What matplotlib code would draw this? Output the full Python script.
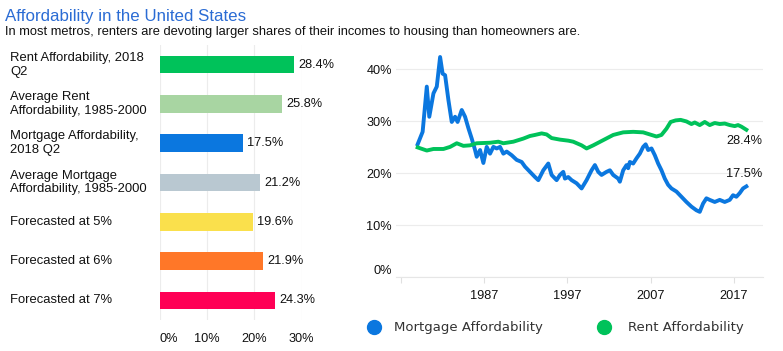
import matplotlib.pyplot as plt
from matplotlib.lines import Line2D
import matplotlib.transforms as mtransforms

plt.rcParams['font.family'] = ['Liberation Sans', 'DejaVu Sans']

# bar chart data
bar_labels = ['Rent Affordability, 2018\nQ2', 'Average Rent\nAffordability, 1985-2000',
              'Mortgage Affordability,\n2018 Q2', 'Average Mortgage\nAffordability, 1985-2000',
              'Forecasted at 5%', 'Forecasted at 6%', 'Forecasted at 7%']
bar_values = [28.4, 25.8, 17.5, 21.2, 19.6, 21.9, 24.3]
bar_colors = ['#00c25a', '#a8d5a2', '#0b77df', '#b9c8d1', '#fae04c', '#ff7728', '#ff0055']
bar_ticks = [0, 10, 20, 30]

# line chart data
mort_years = [1979.0, 1979.6, 1980.1, 1980.4, 1980.9, 1981.3, 1981.7, 1982.0, 1982.3, 1982.7,
              1983.1, 1983.5, 1983.8, 1984.3, 1984.7, 1985.1, 1985.5, 1985.9, 1986.1, 1986.5,
              1986.9, 1987.3, 1987.7, 1988.1, 1988.5, 1988.9, 1989.3, 1989.7, 1990.3, 1990.9,
              1991.5, 1991.9, 1992.5, 1993.1, 1993.5, 1994.1, 1994.7, 1995.1, 1995.7, 1996.1,
              1996.5, 1996.7, 1997.1, 1997.5, 1998.1, 1998.7, 1999.3, 1999.9, 2000.3, 2000.7,
              2001.1, 2001.7, 2002.1, 2002.5, 2003.1, 2003.3, 2003.7, 2004.1, 2004.3, 2004.5,
              2004.9, 2005.3, 2005.7, 2006.1, 2006.4, 2006.7, 2007.1, 2007.5, 2007.9, 2008.3,
              2008.7, 2009.1, 2009.5, 2010.1, 2010.7, 2011.3, 2011.9, 2012.5, 2012.9, 2013.3,
              2013.7, 2014.1, 2014.7, 2015.3, 2015.9, 2016.5, 2016.9, 2017.3, 2017.7, 2018.1,
              2018.5]
mort_values = [25.6, 28.0, 36.7, 30.9, 35.4, 36.7, 42.4, 39.2, 38.9, 34.1,
               29.9, 30.9, 29.9, 32.2, 30.9, 28.7, 26.7, 24.5, 23.2, 24.5,
               22.0, 25.1, 23.8, 25.1, 24.8, 25.1, 23.8, 24.2, 23.5, 22.6,
               22.2, 21.3, 20.3, 19.3, 18.7, 20.6, 21.9, 19.7, 18.7, 19.7,
               20.3, 19.0, 19.3, 18.7, 18.1, 17.1, 18.7, 20.6, 21.6, 20.3,
               19.7, 20.3, 20.6, 19.7, 19.0, 18.4, 20.6, 21.6, 21.0, 22.2,
               21.9, 22.9, 23.8, 25.1, 25.6, 24.5, 24.8, 23.5, 21.9, 20.6,
               19.0, 17.8, 17.1, 16.5, 15.5, 14.5, 13.6, 12.9, 12.6, 14.2,
               15.2, 14.9, 14.5, 14.9, 14.5, 14.9, 15.8, 15.5, 16.2, 17.1,
               17.5]
rent_years = [1979.0, 1980.1, 1980.9, 1982.1, 1982.9, 1983.7, 1984.5, 1985.3, 1986.1, 1987.7,
              1988.7, 1989.3, 1990.5, 1991.7, 1992.5, 1993.1, 1993.9, 1994.5, 1995.1, 1996.1,
              1997.1, 1997.7, 1998.7, 1999.3, 2000.1, 2001.3, 2002.5, 2003.7, 2004.9, 2006.1,
              2007.1, 2007.7, 2008.3, 2008.9, 2009.4, 2010.0, 2010.6, 2011.3, 2011.9, 2012.3,
              2012.9, 2013.5, 2014.1, 2014.7, 2015.3, 2015.9, 2016.5, 2017.1, 2017.5, 2017.9,
              2018.5]
rent_values = [25.0, 24.4, 24.7, 24.7, 25.1, 25.8, 25.3, 25.4, 25.8, 25.9,
               26.1, 25.8, 26.1, 26.7, 27.2, 27.4, 27.7, 27.5, 26.8, 26.5,
               26.3, 26.1, 25.4, 24.8, 25.4, 26.4, 27.4, 27.9, 28.0, 27.9,
               27.4, 27.1, 27.4, 28.6, 29.9, 30.2, 30.3, 30.0, 29.5, 29.8,
               29.3, 29.9, 29.3, 29.7, 29.5, 29.6, 29.3, 29.1, 29.3, 29.0,
               28.4]
year_ticks = [1977, 1987, 1997, 2007, 2017]
pct_ticks = [0, 10, 20, 30, 40]

W, H = 783, 351
fig = plt.figure(figsize=(W / 100, H / 100), dpi=100)

fig.text(5 / W, 1 - 16 / H, 'Affordability in the United States', fontsize=12.2,
         color='#2b6cd4', va='center', ha='left')
fig.text(5 / W, 1 - 32 / H,
         'In most metros, renters are devoting larger shares of their incomes to housing than homeowners are.',
         fontsize=9.3, color='#111111', va='center', ha='left')

# ---- bar chart ----
ax1 = fig.add_axes([160 / W, 1 - 320 / H, (301.7 - 160) / W, 275 / H])
pos = list(range(len(bar_values)))
ax1.barh(pos, bar_values, color=bar_colors, height=0.445, zorder=3)
ax1.set_ylim(len(bar_values) - 0.5, -0.5)
ax1.set_xlim(0, 30)
ax1.set_xticks(bar_ticks)
ax1.set_xticklabels([f'{t}%' for t in bar_ticks], fontsize=9.2, color='#111111')
ax1.xaxis.grid(True, color='#ececec', lw=0.8, zorder=0)
ax1.tick_params(axis='x', length=0, pad=9)
ax1.get_xticklabels()[0].set_ha('left')
ax1.set_yticks([])
for s in ax1.spines.values():
    s.set_visible(False)
for i, (lab, v) in enumerate(zip(bar_labels, bar_values)):
    ax1.text(-150 / 141.7, i, lab, transform=ax1.get_yaxis_transform(), ha='left',
             va='center', fontsize=9.4, color='#111111', linespacing=1.2)
    ax1.text(v + 0.9, i, f'{v}%', ha='left', va='center', fontsize=9.2,
             color='#111111', clip_on=False)

# ---- line chart ----
ax2 = fig.add_axes([396 / W, 1 - 277.3 / H, 367 / W, 226 / H])
ax2.plot(mort_years, mort_values, color='#0b77df', lw=2.8, solid_joinstyle='round')
ax2.plot(rent_years, rent_values, color='#00c25a', lw=2.8, solid_joinstyle='round')
ax2.set_xlim(1976.4, 2020.5)
ax2.set_ylim(0, 43.5)
ax2.set_yticks(pct_ticks)
ax2.set_yticklabels([f'{t}%' for t in pct_ticks], fontsize=9.2, color='#111111')
ax2.set_xticks(year_ticks)
ax2.set_xticklabels([''] + [str(y) for y in year_ticks[1:]], fontsize=9.2, color='#111111')
ax2.yaxis.grid(True, color='#ececec', lw=0.8)
ax2.tick_params(axis='y', length=0, pad=3)
ax2.tick_params(axis='x', length=4, color='#e0e0e0', pad=5)
for s in ['top', 'right', 'left']:
    ax2.spines[s].set_visible(False)
ax2.spines['bottom'].set_color('#e6e6e6')
ax2.spines['bottom'].set_linewidth(0.8)
zero_lab = ax2.get_yticklabels()[0]
zero_lab.set_transform(zero_lab.get_transform() +
                       mtransforms.ScaledTranslation(0, 8 / 100, fig.dpi_scale_trans))

ax2.text(762 / W, 1 - 141 / H, f'{rent_values[-1]}%', transform=fig.transFigure,
         ha='right', va='center', fontsize=9.2, color='#111111')
ax2.text(762 / W, 1 - 174 / H, f'{mort_values[-1]}%', transform=fig.transFigure,
         ha='right', va='center', fontsize=9.2, color='#111111')

# legend
for cx, tx, col, lab in [(374, 394, '#0b77df', 'Mortgage Affordability'),
                         (604, 628, '#00c25a', 'Rent Affordability')]:
    fig.add_artist(Line2D([cx / W], [1 - 327 / H], marker='o', markersize=10, ls='',
                          color=col, transform=fig.transFigure))
    fig.text(tx / W, 1 - 327 / H, lab, fontsize=9.5, color='#333333', va='center',
             ha='left', family=['DejaVu Sans'])

fig.savefig('out.png', dpi=100)
